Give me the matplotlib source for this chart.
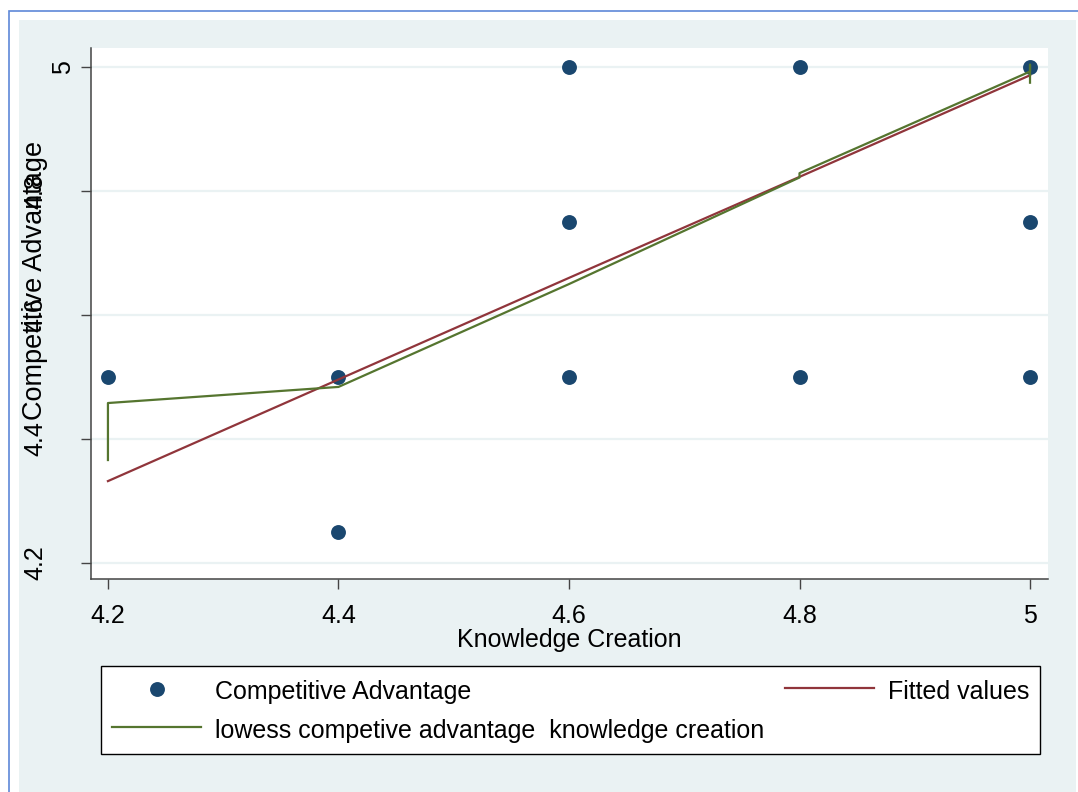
import matplotlib.pyplot as plt
from matplotlib.patches import Rectangle
from matplotlib.transforms import ScaledTranslation

# observed points
know_creation = [4.2, 4.4, 4.4, 4.6, 4.6, 4.6, 4.8, 4.8, 5.0, 5.0, 5.0]
comp_advantage = [4.5, 4.5, 4.25, 5.0, 4.75, 4.5, 5.0, 4.5, 5.0, 4.75, 4.5]

# linear fit
fit_x = [4.2, 4.4, 4.6, 4.8, 5.0]
fit_y = [4.332, 4.496, 4.66, 4.823, 4.987]

# lowess smoother (tied x values give the little vertical steps)
lowess_x = [4.2, 4.2, 4.4, 4.6, 4.8, 4.8, 5.0, 5.0, 5.0]
lowess_y = [4.366, 4.458, 4.484, 4.65, 4.822, 4.829, 4.993, 5.004, 4.975]

x_ticks = [4.2, 4.4, 4.6, 4.8, 5.0]
x_labels = ['4.2', '4.4', '4.6', '4.8', '5']
y_ticks = [4.2, 4.4, 4.6, 4.8, 5.0]
y_labels = ['4.2', '4.4', '4.6', '4.8', '5']

navy = '#1A476F'
maroon = '#90353B'
green = '#55752F'
bg = '#EAF2F3'

plt.rcParams['font.family'] = ['Liberation Sans', 'DejaVu Sans']
fs = 18

W, H = 1078, 792
fig = plt.figure(figsize=(W / 100, H / 100), dpi=100, facecolor='white')

# stata-ish outer background and thin blue frame
fig.patches.append(Rectangle((19 / W, 0), (1076 - 19) / W, (H - 20) / H,
                             transform=fig.transFigure, facecolor=bg,
                             edgecolor='none', zorder=-2))
fig.patches.append(Rectangle((9 / W, -0.1), 1.2, (H - 11) / H + 0.1,
                             transform=fig.transFigure, fill=False,
                             edgecolor='#5E88D8', lw=1.2, zorder=-1))

ax = fig.add_axes([91 / W, 1 - 579 / H, (1048 - 91) / W, (579 - 48) / H])
ax.set_facecolor('white')

sc = ax.scatter(know_creation, comp_advantage, s=115, color=navy,
                linewidths=0, zorder=2, label='Competitive Advantage')
fit_line, = ax.plot(fit_x, fit_y, color=maroon, lw=1.6, zorder=3,
                    label='Fitted values')
low_line, = ax.plot(lowess_x, lowess_y, color=green, lw=1.6, zorder=4,
                    label='lowess competive advantage  knowledge creation')

ax.set_xlim(4.1853, 5.0156)
ax.set_ylim(4.174, 5.031)

ax.set_xticks(x_ticks)
ax.set_xticklabels(x_labels, fontsize=fs)
ax.set_yticks(y_ticks)
ax.set_yticklabels(y_labels, fontsize=fs, rotation=90, va='center')

for s in ['top', 'right']:
    ax.spines[s].set_visible(False)
for s in ['left', 'bottom']:
    ax.spines[s].set_color('#444444')
    ax.spines[s].set_linewidth(1.1)
ax.tick_params(axis='x', length=7.2, width=1.0, color='#444444', pad=10.5)
ax.tick_params(axis='y', length=7.2, width=1.0, color='#444444', pad=24)

# stata puts the short "5" label closer to the axis
for lab in ax.get_yticklabels():
    if lab.get_text() == '5':
        lab.set_transform(lab.get_transform() +
                          ScaledTranslation(0.27, 0, fig.dpi_scale_trans))

ax.grid(axis='y', color=bg, lw=1.6)
ax.set_axisbelow(True)

ax.set_xlabel('Knowledge Creation', fontsize=fs, labelpad=0.5)
ax.set_ylabel('Competitive Advantage', fontsize=19.5)
ax.yaxis.set_label_coords(-0.045, 0.562)

leg = fig.legend([sc, low_line, fit_line],
                 ['Competitive Advantage',
                  'lowess competive advantage  knowledge creation',
                  'Fitted values'],
                 loc='upper left', ncol=2, mode='expand',
                 bbox_to_anchor=(101 / W, 1 - 666 / H, (1040 - 101) / W, 0.0),
                 borderaxespad=0, fontsize=fs, frameon=True, fancybox=False,
                 edgecolor='black', facecolor='white', framealpha=1,
                 handlelength=3.56, handletextpad=0.56, borderpad=0.44,
                 handleheight=1.25, labelspacing=0.5, scatterpoints=1)
leg.get_frame().set_linewidth(1.0)

fig.savefig('out.png', dpi=100, facecolor='white')
